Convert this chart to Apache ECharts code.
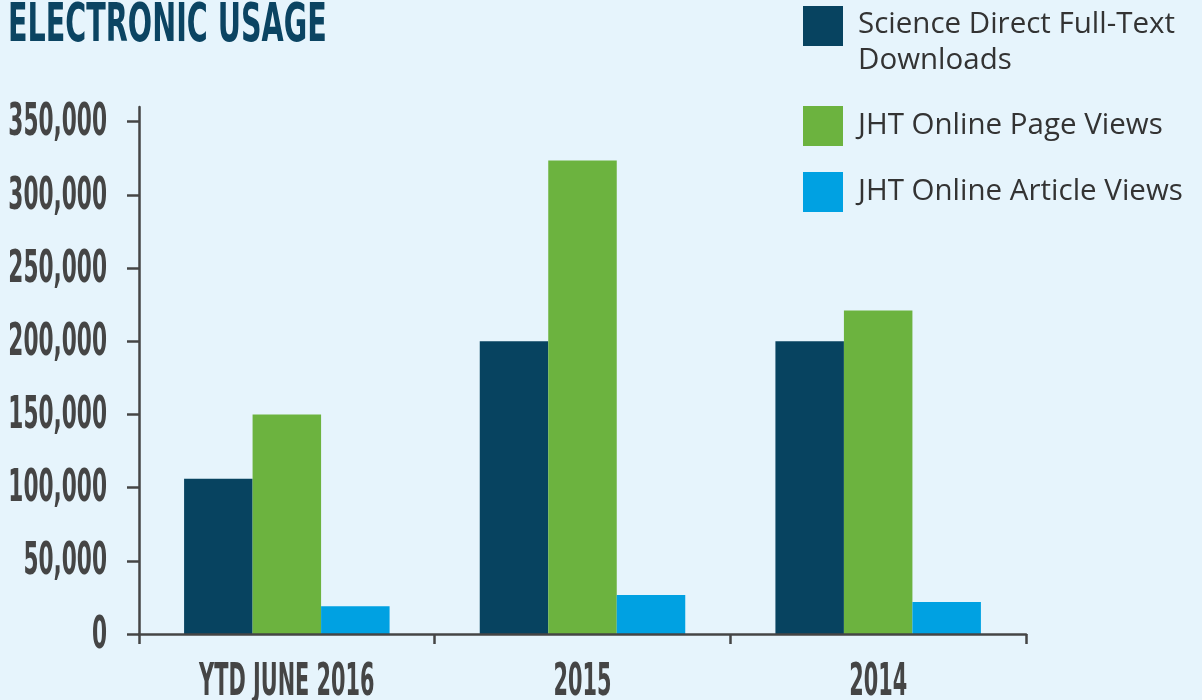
<!DOCTYPE html>
<html>
<head>
<meta charset="utf-8">
<script src="https://cdn.jsdelivr.net/npm/echarts@6/dist/echarts.min.js"></script>
<style>
html,body{margin:0;padding:0;background:#e6f4fc;}
#c{width:1202px;height:700px;}
</style>
</head>
<body>
<div id="c"></div>
<script>
const categories = ['YTD JUNE 2016', '2015', '2014'];
const seriesNames = ['Science Direct Full-Text Downloads', 'JHT Online Page Views', 'JHT Online Article Views'];
const scienceDirect = [106000, 200000, 200000];
const pageViews = [150000, 323500, 221000];
const articleViews = [19000, 26700, 21900];
const yTicks = [0, 50000, 100000, 150000, 200000, 250000, 300000, 350000];
const titleText = 'ELECTRONIC USAGE';

const cond = '"DejaVu Sans Condensed", "DejaVu Sans", sans-serif';
const axisColor = '#454545';
const colors = ['#074360', '#6cb33f', '#00a1e2'];
const gridLeft = 139;
const fmt = function (v) { return v.toLocaleString('en-US'); };

const chart = echarts.init(document.getElementById('c'));
chart.setOption({
  backgroundColor: '#e6f4fc',
  animation: false,
  color: colors,
  legend: [{
    data: [seriesNames[0]],
    left: 803, top: -15,
    padding: 0,
    orient: 'vertical',
    itemWidth: 40, itemHeight: 40,
    icon: 'rect',
    formatter: function (n) {
      const p = n.split(' Downloads');
      return '{s| }\n{a|' + p[0] + '}\n{a|Downloads}';
    },
    textStyle: {
      padding: [0, 0, 0, 10],
      rich: {
        s: { fontSize: 10, lineHeight: 34 },
        a: { fontFamily: 'Open Sans', fontSize: 29.5, color: '#333', lineHeight: 36 }
      }
    }
  }, {
    data: [seriesNames[1], seriesNames[2]],
    left: 803, top: 106,
    padding: 0,
    orient: 'vertical',
    itemGap: 26,
    itemWidth: 40, itemHeight: 40,
    icon: 'rect',
    textStyle: { fontFamily: 'Open Sans', fontSize: 29.5, color: '#333', lineHeight: 36, padding: [0, 0, 0, 10] }
  }],
  grid: { left: gridLeft, right: 176, top: 107, bottom: 66, containLabel: false, outerBoundsMode: 'none' },
  xAxis: {
    type: 'category',
    data: categories,
    z: 5,
    axisLine: { lineStyle: { color: axisColor, width: 2.5 } },
    axisTick: { show: true, alignWithLabel: false, length: 10, lineStyle: { color: axisColor, width: 2.5 } },
    axisLabel: { show: false }
  },
  yAxis: {
    type: 'value',
    min: 0, max: 360000,
    z: 5,
    splitLine: { show: false },
    axisLine: { show: true, lineStyle: { color: axisColor, width: 2.5 } },
    axisTick: { show: true, length: 12, customValues: yTicks, lineStyle: { color: axisColor, width: 2.5 } },
    axisLabel: { show: false }
  },
  series: [
    { name: seriesNames[0], type: 'bar', data: scienceDirect, barWidth: 68.5, barGap: '0%' },
    { name: seriesNames[1], type: 'bar', data: pageViews, barWidth: 68.5, barGap: '0%' },
    { name: seriesNames[2], type: 'bar', data: articleViews, barWidth: 68.5, barGap: '0%' }
  ]
});

// Condensed tick labels placed through the library's own axis scales
const g = [{
  type: 'text', x: 8, y: 1, scaleX: 0.6,
  style: { text: titleText, font: 'bold 53px ' + cond, fill: '#0b4462', verticalAlign: 'top' }
}];
const y0 = chart.convertToPixel({ yAxisIndex: 0 }, 0);
yTicks.forEach(function (v) {
  g.push({
    type: 'text', x: gridLeft - 32, y: chart.convertToPixel({ yAxisIndex: 0 }, v) + 2, scaleX: 0.535,
    style: { text: fmt(v), font: 'bold 45px ' + cond, fill: axisColor, align: 'right', verticalAlign: 'middle' }
  });
});
categories.forEach(function (c, i) {
  g.push({
    type: 'text', x: chart.convertToPixel({ xAxisIndex: 0 }, i), y: y0 + 27, scaleX: 0.515,
    style: { text: c, font: 'bold 45px ' + cond, fill: axisColor, align: 'center', verticalAlign: 'top' }
  });
});
chart.setOption({ graphic: g });
</script>
</body>
</html>
